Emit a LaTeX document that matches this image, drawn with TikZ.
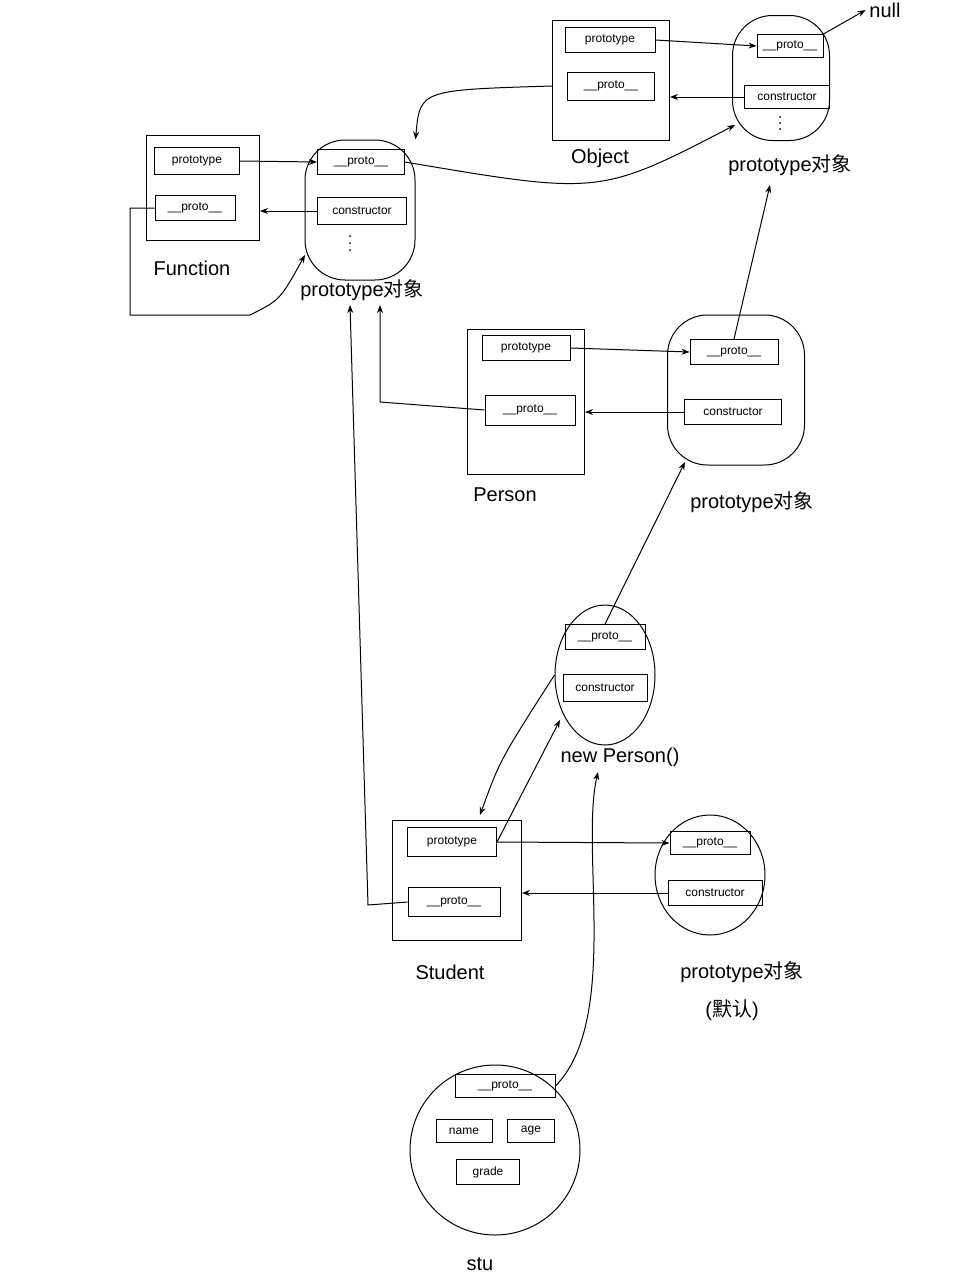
\documentclass[tikz,border=0pt]{standalone}
\usepackage{fontspec}
\setmainfont{Liberation Sans}
\newfontfamily\cjk{Noto Sans CJK SC}
\usetikzlibrary{arrows.meta,shapes.geometric}
\begin{document}
\begin{tikzpicture}[x=1pt,y=-1pt,line width=1pt,
  fld/.style={draw,rectangle,inner sep=0pt,font=\fontsize{12}{13}\selectfont},
  cont/.style={draw,rectangle,inner sep=0pt},
  pobj/.style={draw,rounded corners=40pt,inner sep=0pt},
  lbl/.style={font=\fontsize{20}{22}\selectfont},
  arr/.style={-{Stealth[length=8pt,width=6pt]}}]
\fill[white] (0,0) rectangle (960,1280);
\useasboundingbox (0,0) rectangle (960,1280);
% Object
\node[cont,minimum width=117pt,minimum height=120pt] (obj) at (611,80) {};
\node[fld,minimum width=90pt,minimum height=25pt] (objP) at (610,40) {prototype};
\node[fld,minimum width=87pt,minimum height=28pt] (objU) at (611,86) {\_\_proto\_\_};
\node[lbl] (objL) at (600,158) {Object};
% Object prototype
\node[pobj,minimum width=97pt,minimum height=125pt] (op) at (781,78) {};
\node[fld,minimum width=66pt,minimum height=23pt] (opU) at (790,46) {\_\_proto\_\_};
\node[fld,minimum width=85pt,minimum height=23pt] (opC) at (787,97) {constructor};
\foreach \d in {117,123,129} \fill (780,\d) circle (1pt);
\node[lbl] (opL) at (790,165) {prototype{\cjk 对象}};
\node[lbl] (null) at (885,10) {null};
% Function
\node[cont,minimum width=113pt,minimum height=105pt] (fn) at (203,188) {};
\node[fld,minimum width=85pt,minimum height=27pt] (fnP) at (197,161) {prototype};
\node[fld,minimum width=80pt,minimum height=25pt] (fnU) at (195,208) {\_\_proto\_\_};
\node[lbl] (fnL) at (192,268) {Function};
% Function prototype
\node[pobj,minimum width=110pt,minimum height=140pt] (fp) at (360,210) {};
\node[fld,minimum width=87pt,minimum height=25pt] (fpU) at (361,162) {\_\_proto\_\_};
\node[fld,minimum width=89pt,minimum height=27pt] (fpC) at (362,211) {constructor};
\foreach \d in {236,243,250} \fill (350,\d) circle (1pt);
\node[lbl] (fpL) at (362,290) {prototype{\cjk 对象}};
% Person
\node[cont,minimum width=117pt,minimum height=145pt] (ps) at (526,402) {};
\node[fld,minimum width=88pt,minimum height=25pt] (psP) at (526,348) {prototype};
\node[fld,minimum width=90pt,minimum height=30pt] (psU) at (530,410) {\_\_proto\_\_};
\node[lbl] (psL) at (505,495) {Person};
% Person prototype
\node[pobj,minimum width=137pt,minimum height=150pt] (pp) at (736,390) {};
\node[fld,minimum width=88pt,minimum height=25pt] (ppU) at (734,352) {\_\_proto\_\_};
\node[fld,minimum width=97pt,minimum height=25pt] (ppC) at (733,412) {constructor};
\node[lbl] (ppL) at (752,502) {prototype{\cjk 对象}};
% new Person()
\node[draw,ellipse,minimum width=100pt,minimum height=140pt,inner sep=0pt] (np) at (605,675) {};
\node[fld,minimum width=80pt,minimum height=25pt] (npU) at (605,637) {\_\_proto\_\_};
\node[fld,minimum width=84pt,minimum height=27pt] (npC) at (605,688) {constructor};
\node[lbl] (npL) at (620,757) {new Person()};
% Student
\node[cont,minimum width=129pt,minimum height=120pt] (st) at (457,880) {};
\node[fld,minimum width=89pt,minimum height=29pt] (stP) at (452,842) {prototype};
\node[fld,minimum width=92pt,minimum height=29pt] (stU) at (454,902) {\_\_proto\_\_};
\node[lbl] (stL) at (450,972) {Student};
% default prototype
\node[draw,ellipse,minimum width=110pt,minimum height=120pt,inner sep=0pt] (dp) at (710,875) {};
\node[fld,minimum width=80pt,minimum height=23pt] (dpU) at (710,843) {\_\_proto\_\_};
\node[fld,minimum width=94pt,minimum height=25pt] (dpC) at (715,893) {constructor};
\node[lbl] (dpL) at (742,972) {prototype{\cjk 对象}};
\node[lbl] (dpL2) at (732,1010) {({\cjk 默认})};
% stu
\node[draw,circle,minimum size=170pt,inner sep=0pt] (stu) at (495,1150) {};
\node[fld,minimum width=100pt,minimum height=23pt] (suU) at (505,1086) {\_\_proto\_\_};
\node[fld,minimum width=56pt,minimum height=23pt] (suN) at (464,1131) {name};
\node[fld,minimum width=47pt,minimum height=23pt] (suA) at (531,1131) {age};
\node[fld,minimum width=63pt,minimum height=25pt] (suG) at (488,1172) {grade};
\node[lbl] (stuL) at (480,1264) {stu};
% arrows
\draw[arr] (objP.east) -- (opU.west);
\draw[arr] (opC.west) -- (obj.east |- opC.west);
\draw[arr] (opU.north east) -- (null.west);
\draw[arr] (obj.west |- objU) .. controls (420,90) .. (fp.north east);
\draw[arr] (fnP.east) -- (fpU.west);
\draw[arr] (fpC.west) -- (fn.east |- fpC.west);
\coordinate (f1) at (130,208); \coordinate (f2) at (130,315); \coordinate (f3) at (250,315);
\draw[arr] (fnU.west) -- (f1) -- (f2) -- (f3) .. controls (280,300) .. (305,255);
\draw[arr] (fpU.east) .. controls (600,195) .. (735,125);
\draw[arr] (psP.east) -- (ppU.west);
\draw[arr] (ppC.west) -- (ps.east |- ppC.west);
\coordinate (p1) at (380,402);
\draw[arr] (psU.west) -- (p1) -- (380,305);
\draw[arr] (ppU.north) -- (770,185);
\draw[arr] (npU.north) -- (685,462);
\draw[arr] (stP.east) -- (560,720);
\draw[arr] (np.west) .. controls (500,760) .. (480,815);
\draw[arr] (stP.east) -- (dpU.west);
\draw[arr] (dpC.west) -- (st.east |- dpC.west);
\coordinate (s1) at (368,905);
\draw[arr] (stU.west) -- (s1) -- (350,305);
\draw[arr] (suU.east) .. controls (620,1020) and (580,850) .. (598,772);
\end{tikzpicture}
\end{document}
